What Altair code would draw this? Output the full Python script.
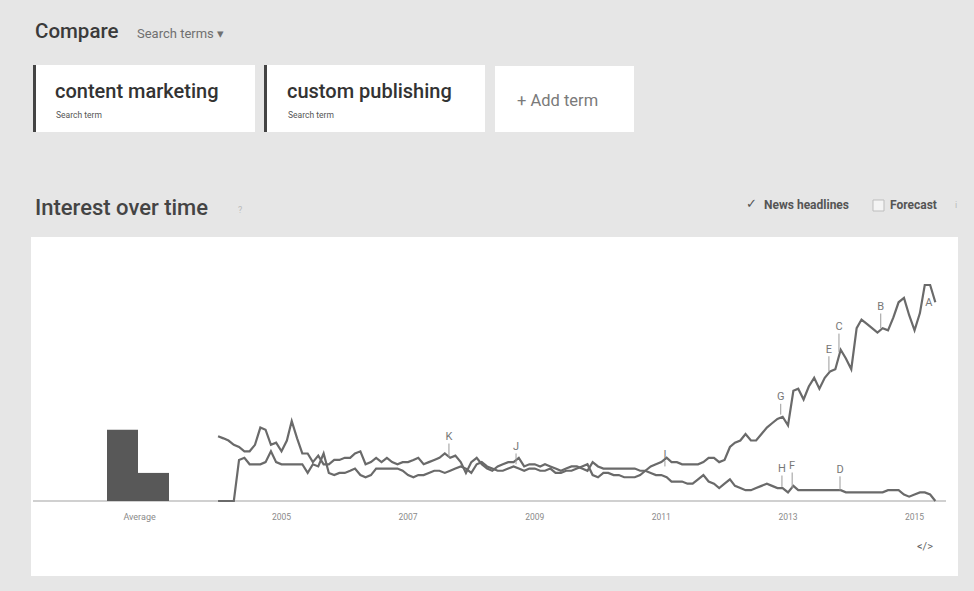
import altair as alt
import pandas as pd

# ---------------- data ----------------
terms = ["content marketing", "custom publishing"]
averages = [33, 13]
start_month = "2004-01-01"

content_marketing = [
    0, 0, 0, 0, 19, 20, 17, 17, 17, 18, 23, 18,
    17, 17, 17, 17, 17, 13, 17, 16, 22, 13, 12, 13,
    13, 14, 15, 12, 11, 12, 15, 15, 15, 15, 15, 14,
    12, 11, 12, 12, 13, 14, 14, 13, 14, 15, 16, 15,
    13, 17, 18, 16, 15, 14, 14, 15, 16, 15, 14, 15,
    15, 14, 14, 15, 13, 13, 14, 14, 15, 16, 17, 12,
    11, 13, 13, 12, 12, 11, 11, 11, 12, 14, 16, 17,
    18, 20, 18, 18, 17, 17, 17, 17, 18, 20, 20, 18,
    19, 25, 27, 28, 31, 28, 28, 31, 34, 36, 38, 39,
    35, 51, 52, 47, 53, 57, 52, 57, 60, 61, 70, 66,
    61, 80, 84, 82, 80, 78, 80, 79, 85, 92, 94, 86,
    79, 87, 100, 100, 92,
]
custom_publishing = [
    30, 29, 28, 26, 25, 23, 23, 26, 34, 33, 26, 27,
    23, 28, 37, 29, 22, 22, 18, 21, 17, 17, 19, 19,
    20, 20, 22, 23, 17, 18, 20, 18, 20, 18, 17, 18,
    18, 19, 20, 17, 18, 19, 20, 22, 20, 21, 18, 13,
    18, 20, 17, 15, 14, 16, 17, 18, 18, 20, 16, 17,
    17, 16, 17, 16, 15, 14, 15, 16, 16, 15, 14, 18,
    16, 15, 15, 15, 15, 15, 15, 15, 14, 14, 13, 12,
    12, 11, 9, 9, 9, 8, 8, 10, 12, 9, 8, 6,
    8, 10, 7, 6, 5, 5, 6, 7, 8, 7, 6, 6,
    4, 7, 5, 5, 5, 5, 5, 5, 5, 5, 5, 4,
    4, 4, 4, 4, 4, 4, 4, 5, 5, 5, 3, 2,
    3, 4, 4, 3, 0,
]

year_labels = ["2005", "2007", "2009", "2011", "2013", "2015"]
year_dates = ["2005-01-01", "2007-01-01", "2009-01-01", "2011-01-01", "2013-01-01", "2015-01-01"]

marker_letters = ["K", "J", "I", "G", "H", "F", "E", "C", "D", "B", "A"]
marker_dates = ["2007-08-25", "2008-09-15", "2011-01-22", "2012-11-20", "2012-11-27",
                "2013-01-25", "2013-08-25", "2013-10-22", "2013-10-28", "2014-06-20", "2015-03-25"]
marker_base = [20, 17, 16, 40, 6.5, 6, 60, 69, 5, 80, 91]
marker_label = [29.6, 25, 21.5, 48, 14.8, 16.2, 70, 80.5, 14.4, 89.8, 91.7]

# ---------------- frames ----------------
months = pd.date_range(start_month, periods=len(content_marketing), freq="MS")
lines_df = pd.concat([
    pd.DataFrame({"date": months, "value": content_marketing, "term": terms[0]}),
    pd.DataFrame({"date": months, "value": custom_publishing, "term": terms[1]}),
])
avg_df = pd.DataFrame({"term": terms, "i": [0, 1], "i2": [1, 2], "value": averages, "zero": [0, 0]})
avg_label_df = pd.DataFrame({"i": [1.05], "text": ["Average"]})
years_df = pd.DataFrame({"date": pd.to_datetime(year_dates), "text": year_labels})
markers_df = pd.DataFrame({
    "letter": marker_letters,
    "date": pd.to_datetime(marker_dates),
    "base": marker_base,
    "top": [max(b, l - 3) for b, l in zip(marker_base, marker_label)],
    "label": marker_label,
})
one = pd.DataFrame({"k": [0]})

W, H = 974, 591
FONT = "Roboto"
x_time = alt.Scale(domain=["2000-07-22", "2015-12-10"])
y_scale = alt.Scale(domain=[-41.67, 231.95], nice=False, zero=False)
x_bar = alt.Scale(domain=[-3.452, 27.97], nice=False, zero=False)


def box(x, y, w, h, color, stroke=None):
    kw = {"color": color}
    if stroke:
        kw.update(stroke=stroke, strokeWidth=1)
    return alt.Chart(one).mark_rect(**kw).encode(
        x=alt.value(x), x2=alt.value(x + w), y=alt.value(y), y2=alt.value(y + h))


def label(txt, x, y, size, color, weight="normal", align="left"):
    return alt.Chart(one).mark_text(
        text=txt, font=FONT, fontSize=size, fontWeight=weight, color=color,
        align=align, baseline="middle").encode(x=alt.value(x), y=alt.value(y))


chrome = [
    box(31, 237, 927, 339, "#ffffff"),
    box(33, 65, 222, 67, "#ffffff"),
    box(33, 65, 3, 67, "#444444"),
    box(264, 65, 221, 67, "#ffffff"),
    box(264, 65, 3, 67, "#444444"),
    box(495, 66, 139, 66, "#ffffff"),
    box(873, 200, 11, 11, "#f4f4f4", "#bdbdbd"),
    box(33, 500, 913, 2, "#d0d0d0"),
    label("Compare", 35, 32, 20.5, "#3a3a3a", 500),
    label("Search terms ▾", 137, 34, 13, "#707070"),
    label("content marketing", 55, 92, 20, "#333333", 500),
    label("Search term", 56, 115, 8.5, "#555555"),
    label("custom publishing", 287, 92, 20, "#333333", 500),
    label("Search term", 288, 115, 8.5, "#555555"),
    label("+ Add term", 517, 101, 16.5, "#7a7a7a"),
    label("Interest over time", 35, 208, 22, "#444444", 500),
    label("?", 238, 210, 9, "#bbbbbb"),
    label("✓", 746, 204, 13, "#555555"),
    label("News headlines", 764, 205, 12, "#555555", "bold"),
    label("Forecast", 890, 205, 12, "#555555", "bold"),
    label("i", 955, 205, 9, "#bbbbbb"),
    label("</>", 917, 547, 11, "#666666"),
]

bars = alt.Chart(avg_df).mark_rect(color="#585858").encode(
    x=alt.X("i:Q", scale=x_bar, axis=None),
    x2="i2:Q",
    y=alt.Y("value:Q", scale=y_scale, axis=None),
    y2="zero:Q",
)
avg_text = alt.Chart(avg_label_df).mark_text(
    font=FONT, fontSize=9, color="#8a8a8a", baseline="middle").encode(
    x=alt.X("i:Q", scale=x_bar, axis=None),
    y=alt.value(517),
    text="text:N",
)

lines = alt.Chart(lines_df).mark_line(color="#6a6a6a", strokeWidth=2.2).encode(
    x=alt.X("date:T", scale=x_time, axis=None),
    y=alt.Y("value:Q", scale=y_scale, axis=None),
    detail="term:N",
)
years = alt.Chart(years_df).mark_text(
    font=FONT, fontSize=8.5, color="#8a8a8a", baseline="middle").encode(
    x=alt.X("date:T", scale=x_time, axis=None),
    y=alt.value(517),
    text="text:N",
)
stems = alt.Chart(markers_df).mark_rule(color="#9a9a9a", strokeWidth=1).encode(
    x=alt.X("date:T", scale=x_time, axis=None),
    y=alt.Y("base:Q", scale=y_scale, axis=None),
    y2="top:Q",
)
letters = alt.Chart(markers_df).mark_text(
    font=FONT, fontSize=11, color="#777777", baseline="middle").encode(
    x=alt.X("date:T", scale=x_time, axis=None),
    y=alt.Y("label:Q", scale=y_scale, axis=None),
    text="letter:N",
)

bar_layer = alt.layer(bars, avg_text)
time_layer = alt.layer(lines, years, stems, letters)
data_layer = alt.layer(bar_layer, time_layer).resolve_scale(x="independent")

chart = alt.layer(*chrome, data_layer).properties(
    width=W, height=H, padding=0,
    autosize=alt.AutoSizeParams(type="none"),
).configure(background="#e6e6e6").configure_view(strokeWidth=0)

chart.save("out.html", embed_options={"renderer": "svg", "actions": False})
